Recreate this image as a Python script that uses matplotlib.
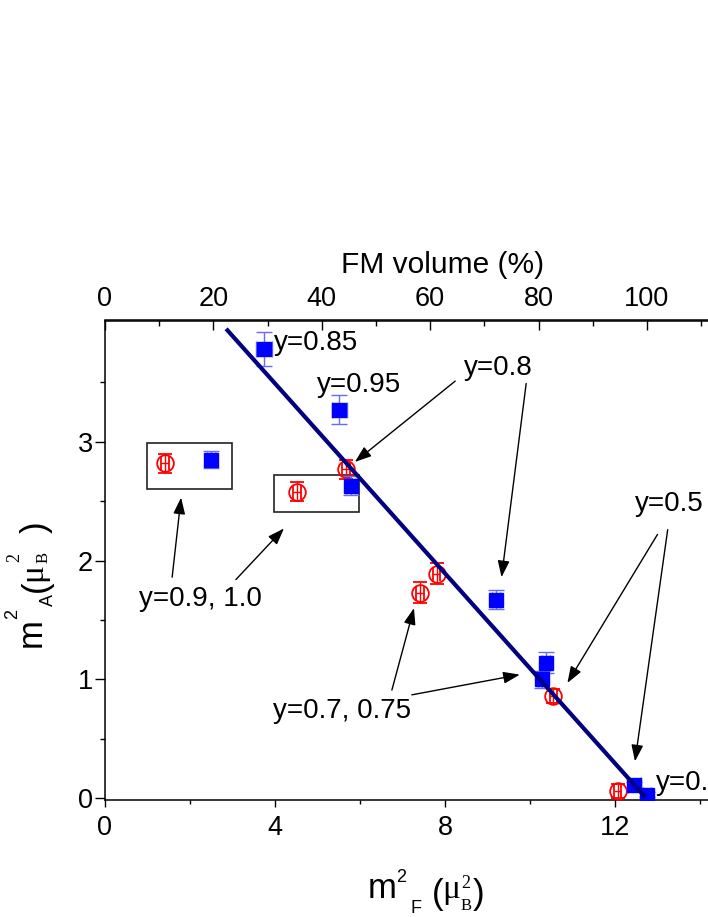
#!/usr/bin/env python3
"""m_A^2 against m_F^2, with FM volume on the top axis"""

import matplotlib
matplotlib.use("Agg")
import matplotlib.pyplot as plt
from matplotlib.patches import Rectangle

plt.rcParams["font.family"] = ["Liberation Sans", "DejaVu Sans"]

# blue squares
blue_x = [3.74, 5.51, 2.49, 5.78, 9.20, 10.38, 10.28, 12.45, 12.75]
blue_y = [3.78, 3.27, 2.85, 2.63, 1.67, 1.14, 1.00, 0.11, 0.03]
blue_yerr = [0.14, 0.12, 0.07, 0.08, 0.08, 0.09, 0.07, 0.03, 0.02]
blue_xerr = [0.18, 0.18, 0.10, 0.10, 0.10, 0.10, 0.10, 0.15, 0.10]

# open red circles
red_x = [1.41, 5.67, 4.51, 7.41, 7.80, 10.55, 12.06]
red_y = [2.82, 2.77, 2.58, 1.73, 1.89, 0.86, 0.06]
red_yerr = [0.08, 0.08, 0.08, 0.09, 0.09, 0.06, 0.06]
red_xerr = [0.09, 0.09, 0.09, 0.09, 0.09, 0.09, 0.09]

# straight line fit
fit_x = [2.85, 12.71]
fit_y = [3.95, 0.01]

# m_F^2 that corresponds to 100 % FM volume
full_fm = 12.75

# labels: (text, x, y)
labels = [
    ("y=0.85", 3.98, 3.83),
    ("y=0.95", 4.99, 3.48),
    ("y=0.8", 8.45, 3.62),
    ("y=0.5", 12.47, 2.48),
    ("y=0.4", 12.96, 0.13),
    ("y=0.9, 1.0", 0.81, 1.68),
    ("y=0.7, 0.75", 3.96, 0.73),
]

# arrows: (start, end)
arrows = [
    ((8.24, 3.51), (5.88, 2.83)),
    ((9.91, 3.49), (9.33, 1.86)),
    ((13.00, 2.22), (10.88, 0.97)),
    ((13.24, 2.26), (12.47, 0.31)),
    ((1.58, 1.86), (1.79, 2.53)),
    ((3.08, 1.84), (4.21, 2.27)),
    ((6.75, 0.91), (7.27, 1.60)),
    ((7.22, 0.87), (9.76, 1.04)),
]

# boxes: (x0, y0, x1, y1)
boxes = [(0.98, 2.60, 2.99, 2.99), (3.97, 2.41, 5.98, 2.72)]

W, H = 708, 917
fig = plt.figure(figsize=(W / 100, H / 100), dpi=100)
ax = fig.add_axes([105 / W, (H - 800) / H, 637.5 / W, 479.5 / H])

ax.errorbar(red_x, red_y, yerr=red_yerr, xerr=red_xerr, fmt="o", ms=12,
            mfc="none", mec="red", mew=1.3, ecolor="red", elinewidth=1,
            capsize=5, capthick=1, zorder=3)
ax.errorbar(blue_x, blue_y, yerr=blue_yerr, xerr=blue_xerr, fmt="s", ms=10,
            color="#0000ff", ecolor="#6a6aff", elinewidth=1,
            capsize=6, capthick=1, zorder=3.5)
ax.plot(fit_x, fit_y, color="#000080", lw=3, solid_capstyle="butt", zorder=4)

for x0, y0, x1, y1 in boxes:
    ax.add_patch(Rectangle((x0, y0), x1 - x0, y1 - y0, fill=False,
                           ec="#222222", lw=1.2, zorder=2))

for s, x, y in labels:
    ax.text(x, y, s, fontsize=20, ha="left", va="center", zorder=5)

for (x0, y0), (x1, y1) in arrows:
    ax.annotate("", xy=(x1, y1), xytext=(x0, y0),
                arrowprops=dict(arrowstyle="-|>,head_length=0.5,head_width=0.18",
                                mutation_scale=20, color="black", lw=1,
                                shrinkA=0, shrinkB=0), zorder=5)

ax.set_xlim(0, 15)
ax.set_ylim(-0.015, 4.02)
ax.set_xticks([0, 4, 8, 12])
ax.set_xticks([2, 6, 10, 14], minor=True)
ax.set_yticks([0, 1, 2, 3])
ax.set_yticks([0.5, 1.5, 2.5, 3.5], minor=True)
ax.tick_params(axis="x", which="major", direction="out", length=5, width=1,
               labelsize=19.5, pad=6)
ax.tick_params(axis="x", which="minor", direction="out", length=3, width=1)
ax.tick_params(axis="y", which="major", direction="out", length=7, width=1,
               labelsize=19.5, pad=1.5)
ax.tick_params(axis="y", which="minor", direction="out", length=3.6, width=1)
for sp in ax.spines.values():
    sp.set_linewidth(1.1)

top = ax.secondary_xaxis("top", functions=(lambda x: x * 100 / full_fm,
                                           lambda p: p * full_fm / 100))
top.set_xticks([0, 20, 40, 60, 80, 100])
top.set_xticks([10, 30, 50, 70, 90, 110], minor=True)
top.tick_params(which="major", direction="in", length=7, width=1,
                labelsize=19.5, pad=6)
top.tick_params(which="minor", direction="in", length=4.5, width=1)
top.spines["top"].set_linewidth(1.1)

fig.text(341 / W, 1 - 273.3 / H, "FM volume (%)", fontsize=21.5,
         ha="left", va="baseline")


def put(s, px, py, size, fam, rot=0):
    fig.text(px / W, 1 - py / H, s, fontsize=size, family=fam, rotation=rot,
             rotation_mode="anchor", ha="left", va="baseline")


sans, serif = "Liberation Sans", "Liberation Serif"

# x label: m^2_F (mu^2_B)
put("m", 368, 898, 25, sans)
put("2", 396, 881.5, 13, sans)
put("F", 411, 913, 13, sans)
put("(", 432, 904, 25, sans)
put("\u03bc", 442, 898, 24, serif)
put("2", 461, 888, 13, serif)
put("B", 461, 910, 12, serif)
put(")", 473, 904, 25, sans)

# y label: m^2_A (mu^2_B)
put("m", 41, 647, 25, sans, 90)
put("2", 17, 619, 13, sans, 90)
put("A", 53, 606, 13, sans, 90)
put("(", 46, 592, 25, sans, 90)
put("\u03bc", 41, 581, 24, serif, 90)
put("2", 19, 562, 13, serif, 90)
put("B", 48, 563, 12, serif, 90)
put(")", 46, 533, 25, sans, 90)

fig.savefig("out.png", dpi=100)
